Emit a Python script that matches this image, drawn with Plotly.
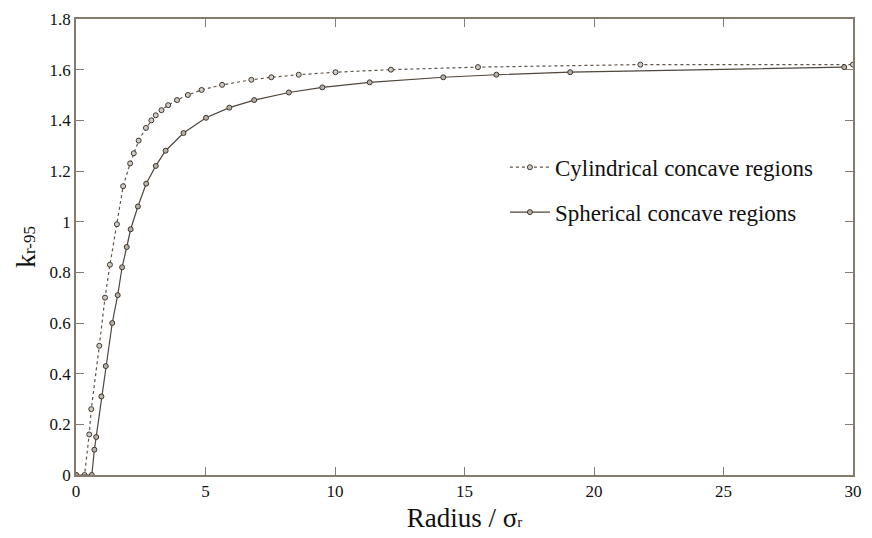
import plotly.graph_objects as go

cyl_x = [0, 0.33, 0.51, 0.59, 0.9, 1.12, 1.31, 1.58, 1.82, 2.09, 2.23, 2.42, 2.70, 2.91, 3.08,
         3.30, 3.56, 3.90, 4.32, 4.85, 5.64, 6.77, 7.54, 8.60, 10.02, 12.16, 15.52, 21.79, 30]
cyl_y = [0, 0, 0.16, 0.26, 0.51, 0.70, 0.83, 0.99, 1.14, 1.23, 1.27, 1.32, 1.37, 1.40, 1.42,
         1.44, 1.46, 1.48, 1.50, 1.52, 1.54, 1.56, 1.57, 1.58, 1.59, 1.60, 1.61, 1.62, 1.62]

sph_x = [0, 0.61, 0.71, 0.78, 0.98, 1.15, 1.40, 1.61, 1.78, 1.96, 2.11, 2.39, 2.71, 3.08, 3.46,
         4.15, 5.02, 5.92, 6.88, 8.22, 9.51, 11.34, 14.18, 16.23, 19.08, 29.66]
sph_y = [0, 0, 0.10, 0.15, 0.31, 0.43, 0.60, 0.71, 0.82, 0.90, 0.97, 1.06, 1.15, 1.22, 1.28,
         1.35, 1.41, 1.45, 1.48, 1.51, 1.53, 1.55, 1.57, 1.58, 1.59, 1.61]

x_ticks = [0, 5, 10, 15, 20, 25, 30]
y_ticks = [0, 0.2, 0.4, 0.6, 0.8, 1.0, 1.2, 1.4, 1.6, 1.8]
y_tick_text = ["0", "0.2", "0.4", "0.6", "0.8", "1", "1.2", "1.4", "1.6", "1.8"]

LINE = "#4f463d"
AXIS = "#857a6e"
FONT = "Times New Roman, Liberation Serif, serif"

fig = go.Figure()
fig.add_trace(go.Scatter(
    x=cyl_x, y=cyl_y, mode="lines+markers", name="Cylindrical concave regions",
    line=dict(color="#5e554b", width=1.2, dash="dot"),
    marker=dict(symbol="circle", size=5, color="#d2cbc3", line=dict(color="#3d3630", width=1)),
    legendgroup="a",
))
fig.add_trace(go.Scatter(
    x=sph_x, y=sph_y, mode="lines+markers", name="Spherical concave regions",
    line=dict(color=LINE, width=1.2),
    marker=dict(symbol="circle", size=5, color="#b8afa5", line=dict(color="#3d3630", width=1)),
    legendgroup="b",
))

axis_common = dict(
    showgrid=False, zeroline=False, showline=True, linecolor=AXIS, linewidth=1.5,
    mirror="ticks", ticks="inside", ticklen=8, tickcolor=AXIS, tickwidth=1.2,
    tickfont=dict(family=FONT, size=17, color="#111"),
)

fig.update_layout(
    width=872, height=538,
    margin=dict(l=76, r=10, t=14, b=58),
    paper_bgcolor="white", plot_bgcolor="white",
    font=dict(family=FONT, color="#111"),
    xaxis=dict(range=[0, 30], tickvals=x_ticks, ticklabeloverflow="allow",
               title=dict(text="Radius / σ<span style='font-size:15px'>r</span>",
                          font=dict(family=FONT, size=27, color="#111"), standoff=8),
               **axis_common),
    yaxis=dict(range=[0, 1.8], tickvals=y_ticks, ticktext=y_tick_text, ticklabeloverflow="allow",
               title=dict(text="k<span style='font-size:17px'>r-95</span>",
                          font=dict(family=FONT, size=28, color="#111"), standoff=6),
               **axis_common),
    legend=dict(x=0.552, y=0.722, xanchor="left", yanchor="top",
                font=dict(family=FONT, size=23, color="#111"),
                bgcolor="rgba(0,0,0,0)", tracegroupgap=12, traceorder="grouped",
                itemwidth=40),
    showlegend=True,
)

fig.write_html("out.html")
